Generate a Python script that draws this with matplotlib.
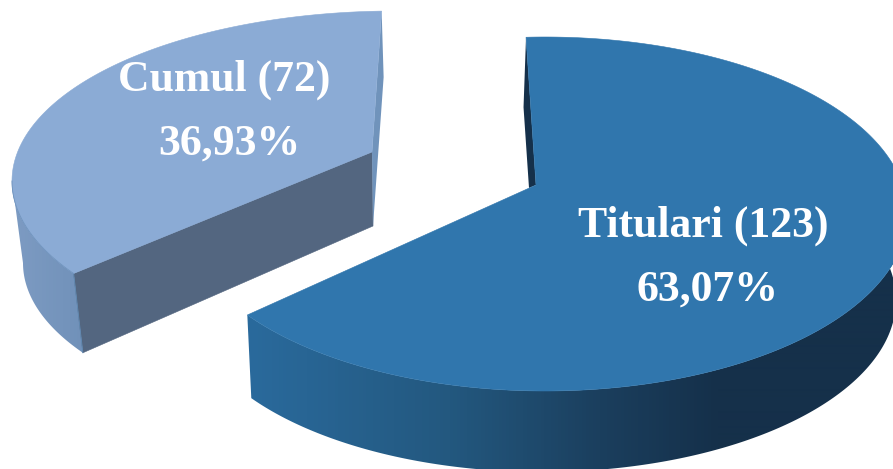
import numpy as np
import matplotlib
matplotlib.use("Agg")
import matplotlib.pyplot as plt
from matplotlib.colors import LinearSegmentedColormap
from matplotlib.patches import Polygon

# ---- data
categories = ["Titulari", "Cumul"]
counts = [123, 72]
percent_labels = ["63,07%", "36,93%"]

W, H = 893, 469
fig = plt.figure(figsize=(W / 100, H / 100), dpi=100, facecolor="white")
ax = fig.add_axes([0, 0, 1, 1])

shares = np.array(counts) / sum(counts) * 360.0


def rim(c, phi):
    """Point(s) on an ellipse (cx, cy, a, b), phi in degrees."""
    p = np.radians(phi)
    return c[0] + c[2] * np.cos(p), c[1] - c[3] * np.sin(p)


def wall(top, bottom, phis, cmap):
    """Outer wall of a slice: a horizontal colour ramp clipped to the band between two rims."""
    xt, yt = rim(top, phis)
    xb, yb = rim(bottom, phis)
    band = Polygon(np.c_[np.r_[xt, xb[::-1]], np.r_[yt, yb[::-1]]],
                   closed=True, transform=ax.transData, facecolor="none", edgecolor="none")
    ax.add_patch(band)
    ramp = cmap(np.linspace(0, 1, W))[None, :, :]
    im = ax.imshow(ramp, extent=(0, W, H, 0), aspect="auto", zorder=2,
                   interpolation="bilinear")
    im.set_clip_path(band)


# ---- Titulari slice (clockwise from the top)
t_top = (545, 214, 362.5, 177)
t_bot = (542, 300, 354, 172)
t_apex = (536, 185)
t_start = 93.0
t_end = t_start - shares[0] * 1.049
t_map = LinearSegmentedColormap.from_list(
    "t", [(0, "#2a6a9c"), (250 / W, "#2a6a9c"), (450 / W, "#23587f"),
          (600 / W, "#1b3f5e"), (720 / W, "#15304a"), (1, "#15304a")])
wall(t_top, t_bot, np.linspace(t_end, 12, 200), t_map)
ts = rim(t_top, t_start)
ax.fill([ts[0], ts[0] - 2.5, t_apex[0] - 7, t_apex[0]],
        [ts[1], ts[1] + 70, t_apex[1] + 3, t_apex[1]],
        facecolor="#15304a", edgecolor="none", zorder=2)
phi = np.linspace(t_start, t_end, 300)
x, y = rim(t_top, phi)
ax.fill(np.r_[t_apex[0], x], np.r_[t_apex[1], y], facecolor="#3076ad",
        edgecolor="#3076ad", lw=0.4, zorder=3)

# ---- Cumul slice (counter-clockwise from the top)
c_top = (395, 181, 383, 170)
c_bot = (395, 263, 372, 165)
c_apex = (372, 152)
c_start = 92.0
c_end = c_start + shares[1] * 0.91
c_map = LinearSegmentedColormap.from_list(
    "c", [(0, "#7f9dc4"), (90 / W, "#6f90b8"), (1, "#6f90b8")])
wall(c_top, c_bot, np.linspace(180, c_end, 60), c_map)
xe, ye = rim(c_top, c_end)
xl, yl = rim(c_bot, c_end)
ax.fill([xe, c_apex[0], c_apex[0] + 1, xl], [ye, c_apex[1], c_apex[1] + 74, yl],
        facecolor="#536680", edgecolor="#536680", lw=0.4, zorder=2)
ax.plot([xe, xl], [ye, yl], color="#5f8ab5", lw=0.6, zorder=2.5)
cs = rim(c_top, c_start)
ax.fill([cs[0], cs[0] + 2, c_apex[0] + 1, c_apex[0]],
        [cs[1], cs[1] + 66, c_apex[1] + 74, c_apex[1]],
        facecolor="#7093bb", edgecolor="none", zorder=2)
phi = np.linspace(c_start, c_end, 200)
x, y = rim(c_top, phi)
ax.fill(np.r_[c_apex[0], x], np.r_[c_apex[1], y], facecolor="#8babd5",
        edgecolor="#8babd5", lw=0.4, zorder=3)
front = np.linspace(180, c_end, 60)
ax.plot(*rim(c_top, front), color="#6f93bd", lw=0.6, zorder=3.5)

# ---- labels
font = dict(family="Liberation Serif", weight="bold", color="white",
            ha="center", va="center", fontsize=31.5, zorder=5)
ax.text(703, 226, f"{categories[0]} ({counts[0]})", **font)
ax.text(708, 290, percent_labels[0], **font)
ax.text(224, 80, f"{categories[1]} ({counts[1]})", **font)
ax.text(229, 144, percent_labels[1], **font)

ax.set_xlim(0, W)
ax.set_ylim(H, 0)
ax.axis("off")

fig.savefig("out.png", dpi=100, facecolor="white")
